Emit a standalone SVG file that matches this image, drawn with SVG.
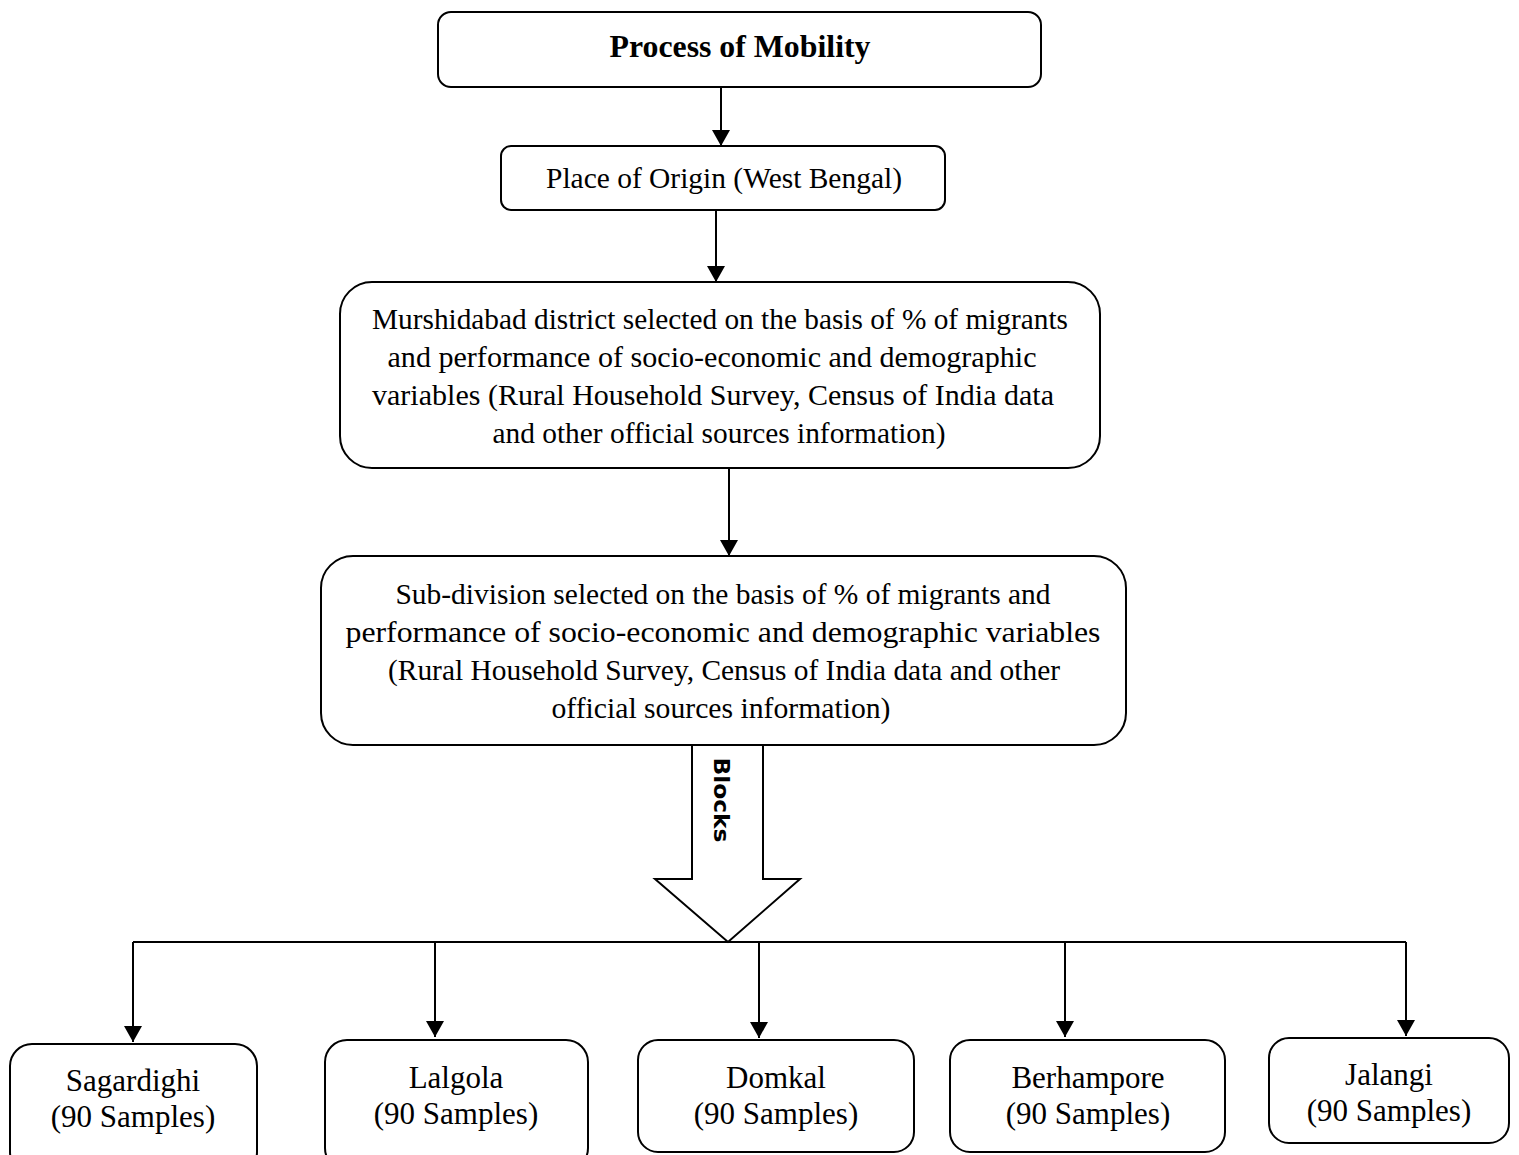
<svg xmlns="http://www.w3.org/2000/svg" width="1519" height="1155" viewBox="0 0 1519 1155">
<style>
.box{fill:#fff;stroke:#000;stroke-width:2}
.t{font-family:"Liberation Serif","Times New Roman",serif;font-size:29px;fill:#000;text-anchor:middle}
.b{font-weight:bold;font-size:31px}
.s{font-size:31px}
.ln{stroke:#000;stroke-width:2;fill:none}
</style>
<defs>
<marker id="ah" markerWidth="16" markerHeight="18" refX="16" refY="9" orient="auto" markerUnits="userSpaceOnUse">
<path d="M0,0 L16,9 L0,18 Z" fill="#000"/>
</marker>
</defs>
<rect width="1519" height="1155" fill="#fff"/>
<g id="connectors">
<line class="ln" x1="721" y1="87" x2="721" y2="146" marker-end="url(#ah)"/>
<line class="ln" x1="716" y1="210" x2="716" y2="282" marker-end="url(#ah)"/>
<line class="ln" x1="729" y1="468" x2="729" y2="556" marker-end="url(#ah)"/>
<polygon class="box" points="692,745 763,745 763,879 800,879 728,942 655,879 692,879"/>
<text x="0" y="0" transform="translate(721,800) rotate(90)" style="font-family:'DejaVu Sans',sans-serif;font-weight:bold;font-size:21px" text-anchor="middle" dominant-baseline="central" textLength="85" lengthAdjust="spacingAndGlyphs">Blocks</text>
<line class="ln" x1="133" y1="942" x2="1406" y2="942"/>
<line class="ln" x1="133" y1="942" x2="133" y2="1042" marker-end="url(#ah)"/>
<line class="ln" x1="435" y1="942" x2="435" y2="1037" marker-end="url(#ah)"/>
<line class="ln" x1="759" y1="942" x2="759" y2="1038" marker-end="url(#ah)"/>
<line class="ln" x1="1065" y1="942" x2="1065" y2="1037" marker-end="url(#ah)"/>
<line class="ln" x1="1406" y1="942" x2="1406" y2="1036" marker-end="url(#ah)"/>
</g>
<g id="n1">
<rect class="box" x="438" y="12" width="603" height="75" rx="13"/>
<text class="t b" x="740" y="57" textLength="261" lengthAdjust="spacingAndGlyphs">Process of Mobility</text>
</g>
<g id="n2">
<rect class="box" x="501" y="146" width="444" height="64" rx="10"/>
<text class="t" x="724" y="188" textLength="356" lengthAdjust="spacingAndGlyphs">Place of Origin (West Bengal)</text>
</g>
<g id="n3">
<rect class="box" x="340" y="282" width="760" height="186" rx="32"/>
<text class="t" x="720" y="329" textLength="696" lengthAdjust="spacingAndGlyphs">Murshidabad district selected on the basis of % of migrants</text>
<text class="t" x="712" y="367" textLength="649" lengthAdjust="spacingAndGlyphs">and performance of socio-economic and demographic</text>
<text class="t" x="713" y="405" textLength="682" lengthAdjust="spacingAndGlyphs">variables (Rural Household Survey, Census of India data</text>
<text class="t" x="719" y="443" textLength="453" lengthAdjust="spacingAndGlyphs">and other official sources information)</text>
</g>
<g id="n4">
<rect class="box" x="321" y="556" width="805" height="189" rx="32"/>
<text class="t" x="723" y="604" textLength="655" lengthAdjust="spacingAndGlyphs">Sub-division selected on the basis of % of migrants and</text>
<text class="t" x="723" y="642" textLength="755" lengthAdjust="spacingAndGlyphs">performance of socio-economic and demographic variables</text>
<text class="t" x="724" y="680" textLength="672" lengthAdjust="spacingAndGlyphs">(Rural Household Survey, Census of India data and other</text>
<text class="t" x="721" y="718" textLength="339" lengthAdjust="spacingAndGlyphs">official sources information)</text>
</g>
<g id="n5">
<rect class="box" x="10" y="1044" width="247" height="130" rx="22"/>
<text class="t s" x="133" y="1091">Sagardighi</text>
<text class="t s" x="133" y="1127">(90 Samples)</text>
</g>
<g id="n6">
<rect class="box" x="325" y="1040" width="263" height="130" rx="22"/>
<text class="t s" x="456" y="1088">Lalgola</text>
<text class="t s" x="456" y="1124">(90 Samples)</text>
</g>
<g id="n7">
<rect class="box" x="638" y="1040" width="276" height="112" rx="20"/>
<text class="t s" x="776" y="1088">Domkal</text>
<text class="t s" x="776" y="1124">(90 Samples)</text>
</g>
<g id="n8">
<rect class="box" x="950" y="1040" width="275" height="112" rx="20"/>
<text class="t s" x="1088" y="1088">Berhampore</text>
<text class="t s" x="1088" y="1124">(90 Samples)</text>
</g>
<g id="n9">
<rect class="box" x="1269" y="1038" width="240" height="105" rx="20"/>
<text class="t s" x="1389" y="1085">Jalangi</text>
<text class="t s" x="1389" y="1121">(90 Samples)</text>
</g>
</svg>
